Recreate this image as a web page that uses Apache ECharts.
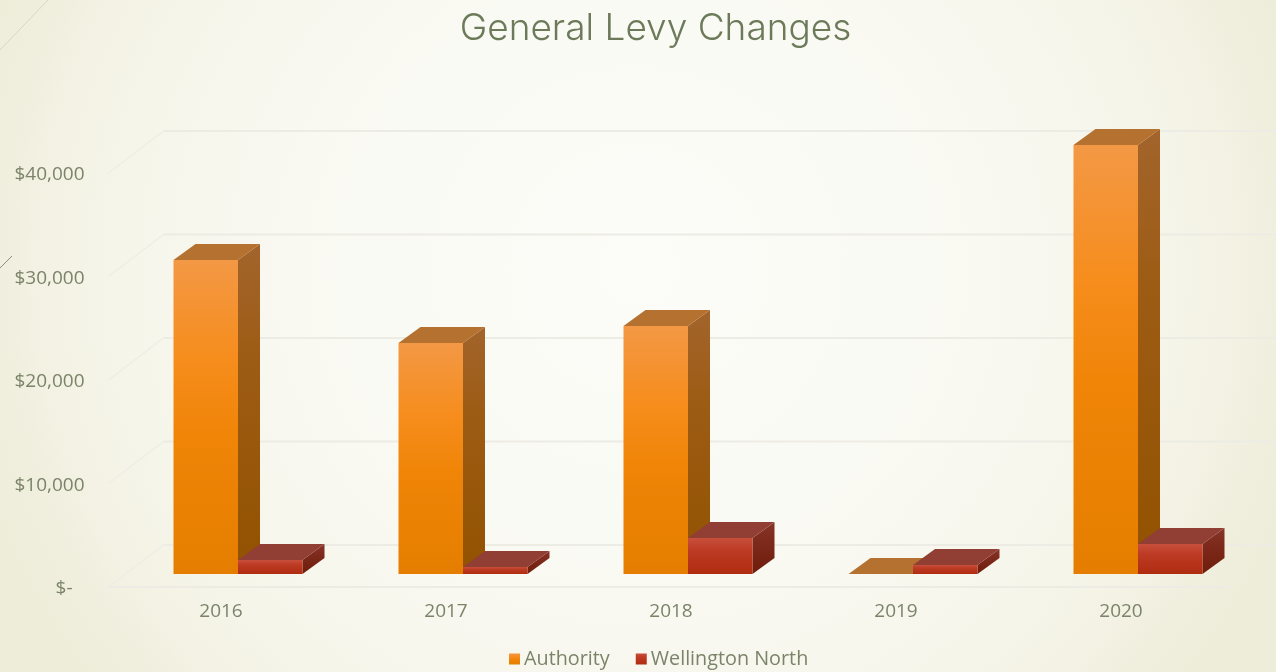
<!DOCTYPE html>
<html>
<head>
<meta charset="utf-8">
<title>General Levy Changes</title>
<style>
  html, body { margin: 0; padding: 0; width: 1276px; height: 672px; overflow: hidden; }
  body { background: radial-gradient(ellipse 54% 100% at 50% 40%, #fcfcf8 0%, #fafaf4 42%, #f6f5ea 76%, #eeedda 100%); }
  #chart { width: 1276px; height: 672px; }
</style>
<script src="https://cdn.jsdelivr.net/npm/echarts@6/dist/echarts.min.js"></script>
</head>
<body>
<div id="chart"></div>
<script>
const chartTitle = 'General Levy Changes';
const years = ['2016', '2017', '2018', '2019', '2020'];
const authority = [30340, 22320, 23960, 0, 41450];
const wellingtonNorth = [1350, 680, 3480, 870, 2900];
const wallTicks = [0, 10000, 20000, 30000, 40000];

const TEXT = '#7b8469';
const FONT = '"Open Sans", sans-serif';

// Oblique projection: wall depth, bar depth and how far the bars sit behind the front floor edge.
const WALL_DX = 55, WALL_DY = -42;
const BAR_DX = 22, BAR_DY = -16;
const BAR_INSET_X = 17, BAR_INSET_Y = -13;
const BAR_BAND_SHARE = 0.2867;

const vGrad = (stops) => new echarts.graphic.LinearGradient(0, 0, 0, 1,
  stops.map(([offset, color]) => ({ offset, color })));

const palettes = {
  authority: {
    front: () => vGrad([[0, '#f39845'], [0.32, '#f68d1c'], [0.55, '#f08508'], [1, '#e57e00']]),
    side: () => vGrad([[0, '#a3642c'], [0.35, '#9d5c14'], [1, '#925200']]),
    top: '#b5712f'
  },
  wellington: {
    front: () => vGrad([[0, '#c8503c'], [0.35, '#bd3a24'], [1, '#b02c10']]),
    side: () => vGrad([[0, '#87352a'], [0.35, '#7e2a1c'], [1, '#6e1c0c']]),
    top: '#913f35'
  }
};

// One slanted box per datum; slot -1 sits left of the shifted band centre, slot 0 right of it.
function boxRenderer(palette, slot) {
  return function (params, api) {
    const base = api.coord([api.value(0), 0]);
    const tip = api.coord([api.value(0), api.value(1)]);
    const w = api.size([1, 0])[0] * BAR_BAND_SHARE;
    const x0 = base[0] + BAR_INSET_X + slot * w;
    const x1 = x0 + w;
    const yb = base[1] + BAR_INSET_Y;
    const yt = tip[1] + BAR_INSET_Y;
    const children = [];
    if (yb - yt > 0.5) {
      children.push({
        type: 'polygon',
        shape: { points: [[x1, yt], [x1 + BAR_DX, yt + BAR_DY], [x1 + BAR_DX, yb + BAR_DY], [x1, yb]] },
        style: { fill: palette.side() }
      });
      children.push({
        type: 'rect',
        shape: { x: x0, y: yt, width: w, height: yb - yt },
        style: { fill: palette.front() }
      });
    }
    children.push({
      type: 'polygon',
      shape: { points: [[x0, yt], [x0 + BAR_DX, yt + BAR_DY], [x1 + BAR_DX, yt + BAR_DY], [x1, yt]] },
      style: { fill: palette.top }
    });
    return { type: 'group', children };
  };
}

// Wall gridlines: slanted stub on the left wall, then the run across the back.
function wallRenderer(params, api) {
  const cs = params.coordSys;
  const y = api.coord([0, api.value(1)])[1];
  const stroke = '#ecebe4';
  const children = [
    {
      type: 'line',
      shape: { x1: cs.x, y1: y, x2: cs.x + WALL_DX, y2: y + WALL_DY },
      style: { stroke: '#eeede6', lineWidth: 1.5 }
    },
    {
      type: 'line',
      shape: { x1: cs.x + WALL_DX, y1: y + WALL_DY, x2: cs.x + cs.width + WALL_DX, y2: y + WALL_DY },
      style: { stroke, lineWidth: 2 }
    }
  ];
  if (api.value(1) === 0) {
    children.push({
      type: 'line',
      shape: { x1: cs.x, y1: y, x2: cs.x + cs.width, y2: y },
      style: { stroke, lineWidth: 2 }
    });
  }
  return { type: 'group', children };
}

const chart = echarts.init(document.getElementById('chart'), null, { renderer: 'canvas' });
chart.setOption({
  animation: false,
  backgroundColor: 'transparent',
  title: {
    text: chartTitle,
    left: 650.5, top: 5, textAlign: 'center',
    textStyle: { color: '#6c7a5a', fontFamily: 'Inter, "DejaVu Sans", sans-serif', fontWeight: 300, fontSize: 37 }
  },
  legend: {
    data: ['Authority', 'Wellington North'],
    left: 509, top: 649, padding: 0,
    icon: 'rect', itemWidth: 11, itemHeight: 11, itemGap: 26, selectedMode: false,
    textStyle: { color: TEXT, fontFamily: FONT, fontSize: 19.8, padding: [0, 0, 0, -1] }
  },
  grid: { left: 108.5, top: 173, width: 1125, height: 414 },
  xAxis: {
    type: 'category', data: years,
    axisLine: { show: false }, axisTick: { show: false }, splitLine: { show: false },
    axisLabel: { color: TEXT, fontFamily: FONT, fontSize: 19, margin: 15 }
  },
  yAxis: {
    type: 'value', min: 0, max: 40000, interval: 10000,
    axisLine: { show: false }, axisTick: { show: false }, splitLine: { show: false },
    axisLabel: {
      color: TEXT, fontFamily: FONT, fontSize: 19, margin: 24, padding: [4, 0, 0, 0],
      formatter: (v) => v === 0 ? '{dash|$-}' : '$' + v.toLocaleString('en-US'),
      rich: { dash: { color: TEXT, fontFamily: FONT, fontSize: 19, padding: [0, 12, 0, 0] } }
    }
  },
  series: [
    {
      type: 'custom', name: 'walls', silent: true, z: 1,
      encode: { x: 0, y: 1 },
      data: wallTicks.map((v) => [0, v]),
      renderItem: wallRenderer
    },
    {
      type: 'custom', name: 'Authority', z: 2,
      itemStyle: { color: palettes.authority.front() },
      encode: { x: 0, y: 1 },
      data: authority.map((v, i) => [i, v]),
      renderItem: boxRenderer(palettes.authority, -1)
    },
    {
      type: 'custom', name: 'Wellington North', z: 3,
      itemStyle: { color: palettes.wellington.front() },
      encode: { x: 0, y: 1 },
      data: wellingtonNorth.map((v, i) => [i, v]),
      renderItem: boxRenderer(palettes.wellington, 0)
    }
  ],
  graphic: [
    { type: 'line', silent: true, shape: { x1: 0, y1: 50, x2: 48, y2: 0 }, style: { stroke: '#d6d7c4', lineWidth: 1 } },
    { type: 'line', silent: true, shape: { x1: 0, y1: 268, x2: 12, y2: 256 }, style: { stroke: '#8b907a', lineWidth: 1 } }
  ]
});
</script>
</body>
</html>
